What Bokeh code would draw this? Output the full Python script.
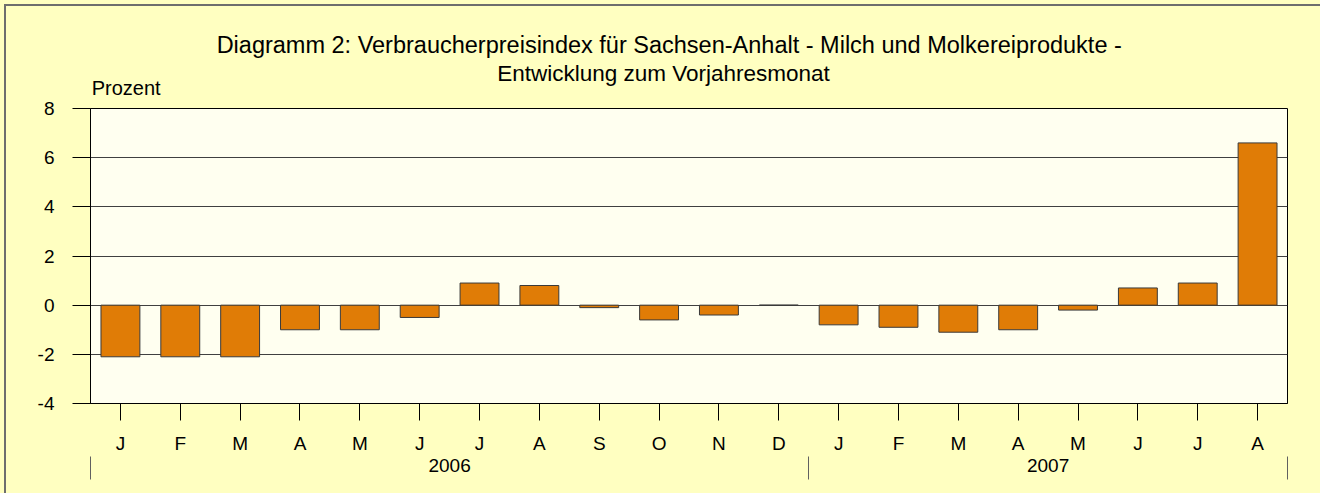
from bokeh.plotting import figure
from bokeh.models import ColumnDataSource, FixedTicker, LinearAxis, Range1d
from bokeh.embed import file_html
from bokeh.resources import INLINE

# ---- data ----
months = ["J", "F", "M", "A", "M", "J", "J", "A", "S", "O", "N", "D",
          "J", "F", "M", "A", "M", "J", "J", "A"]
values = [-2.1, -2.1, -2.1, -1.0, -1.0, -0.5, 0.9, 0.8, -0.1, -0.6, -0.4, 0.0,
          -0.8, -0.9, -1.1, -1.0, -0.2, 0.7, 0.9, 6.6]
years = ["2006", "2007"]
year_counts = [12, 8]
y_ticks = [-4, -2, 0, 2, 4, 6, 8]
title_line1 = "Diagramm 2:  Verbraucherpreisindex für Sachsen-Anhalt - Milch und Molkereiprodukte -"
title_line2 = "Entwicklung zum Vorjahresmonat"
y_unit = "Prozent"

FONT = "Liberation Sans"
BG = "#FFFFC1"
PLOT_BG = "#FFFFF0"
BAR = "#E07C06"
EDGE = "#6E6E6E"

W, H = 1320, 493
FRAME_L, FRAME_W, FRAME_T, FRAME_H = 90, 1197, 108, 295

n = len(months)
xs = [i + 0.5 for i in range(n)]
src = ColumnDataSource(dict(x=xs, top=values, month=months))

p = figure(width=W, height=H, output_backend="svg", toolbar_location=None,
           x_range=Range1d(0, n), y_range=Range1d(-4, 8),
           min_border_left=FRAME_L, min_border_right=W - FRAME_L - FRAME_W,
           min_border_top=FRAME_T, min_border_bottom=H - FRAME_T - FRAME_H)
p.background_fill_color = PLOT_BG
p.border_fill_color = None
p.outline_line_color = "black"
p.outline_line_width = 1
p.styles = {"background-color": BG,
            "box-shadow": "inset 4px 4px 0 0 %s, inset 6px 6px 0 0 %s" % (BG, EDGE)}

p.vbar(x="x", top="top", bottom=0, width=0.65, source=src,
       fill_color=BAR, line_color="#3a3a3a", line_width=1)

p.xgrid.visible = False
p.ygrid.ticker = FixedTicker(ticks=y_ticks)
p.ygrid.grid_line_color = "#404040"
p.ygrid.grid_line_width = 1

# y axis
ya = p.yaxis[0]
ya.ticker = FixedTicker(ticks=y_ticks)
ya.major_label_overrides = {t: str(t) for t in y_ticks}
ya.major_tick_in = 0
ya.major_tick_out = 18
ya.minor_tick_line_color = None
ya.major_tick_line_color = "black"
ya.axis_line_color = "black"
ya.major_label_standoff = 18
ya.major_label_text_font = FONT
ya.major_label_text_font_size = "19px"
ya.major_label_text_color = "black"

# month axis
xa = p.xaxis[0]
xa.ticker = FixedTicker(ticks=xs)
xa.major_label_overrides = {x: m for x, m in zip(xs, months)}
xa.major_tick_in = 0
xa.major_tick_out = 17
xa.minor_tick_line_color = None
xa.major_tick_line_color = "black"
xa.axis_line_color = "black"
xa.major_label_standoff = 12
xa.major_label_text_font = FONT
xa.major_label_text_font_size = "19px"
xa.major_label_text_color = "black"

# year axis with group separators
bounds = [0]
for c in year_counts:
    bounds.append(bounds[-1] + c)
centers = [(bounds[i] + bounds[i + 1]) / 2 for i in range(len(years))]
yr = LinearAxis(ticker=FixedTicker(ticks=centers, minor_ticks=bounds))
yr.major_label_overrides = {c: y for c, y in zip(centers, years)}
yr.major_tick_in = 0
yr.major_tick_out = 0
yr.minor_tick_in = 0
yr.minor_tick_out = 23
yr.minor_tick_line_color = "#606060"
yr.axis_line_color = None
yr.major_label_standoff = -21
yr.major_label_text_font = FONT
yr.major_label_text_font_size = "19px"
yr.major_label_text_color = "black"
p.add_layout(yr, "below")


# text rows above the plot, placed as labels of axes stacked above the frame
def text_axis(txt, pixel_center, size, standoff):
    xpos = (pixel_center - FRAME_L) / FRAME_W * n
    ax = LinearAxis(ticker=FixedTicker(ticks=[xpos]))
    ax.major_label_overrides = {xpos: txt}
    ax.major_tick_in = 0
    ax.major_tick_out = 0
    ax.major_tick_line_color = None
    ax.minor_tick_line_color = None
    ax.axis_line_color = None
    ax.major_label_standoff = standoff
    ax.major_label_text_font = FONT
    ax.major_label_text_font_size = size
    ax.major_label_text_color = "black"
    p.add_layout(ax, "above")


text_axis(y_unit, 125.7, "20px", 10)
text_axis(title_line2, 663, "22.5px", -12)
text_axis(title_line1, 672, "23.5px", 0)

open("out.html", "w").write(file_html(p, INLINE))
